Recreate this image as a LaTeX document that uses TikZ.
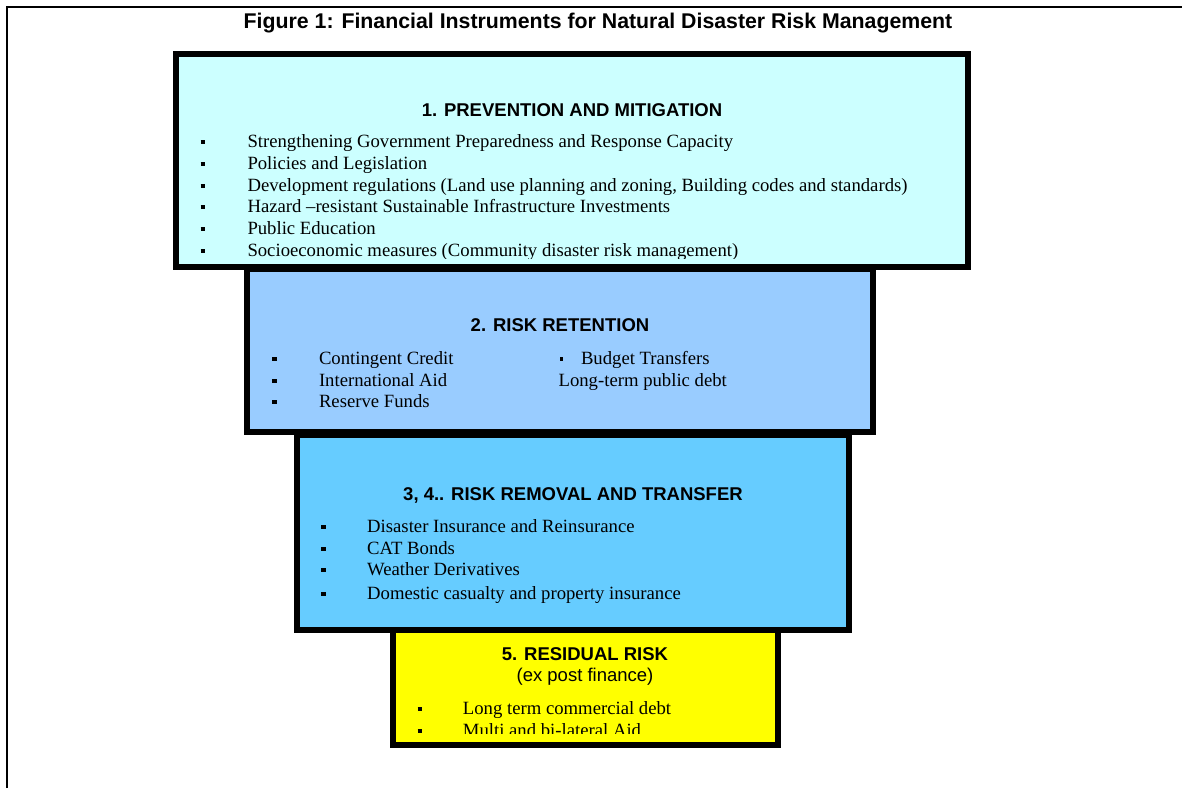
\documentclass[tikz,border=0pt]{standalone}
\usepackage{fontspec}
\setmainfont{Liberation Serif}
\setsansfont{Liberation Sans}
\definecolor{tierA}{HTML}{CCFFFF}
\definecolor{tierB}{HTML}{99CCFF}
\definecolor{tierC}{HTML}{66CCFF}
\definecolor{tierD}{HTML}{FFFF00}
% small square bullet followed by a fixed gap, then the item text
\newcommand\sqb{\rule[3.3pt]{4.5pt}{4.2pt}}
\newcommand\itm[2]{\makebox[#1][l]{\sqb}#2}
\begin{document}
\begin{tikzpicture}[x=1pt,y=-1pt,
  tier/.style={draw=black, line width=6pt, rectangle, inner sep=0pt, outer sep=0pt, anchor=north west},
  head/.style={font=\fontsize{18.5}{22}\selectfont\sffamily\bfseries, inner sep=0pt, anchor=base},
  sub/.style={font=\fontsize{18.5}{22}\selectfont\sffamily, inner sep=0pt, anchor=base},
  item/.style={font=\fontsize{18.7}{22}\selectfont, inner sep=0pt, anchor=base west},
  ]
\useasboundingbox (0,0) rectangle (1184,788);
\fill[white] (0,0) rectangle (1184,788);

% page frame (left and top edges)
\draw[line width=2pt] (7,788) -- (7,7) -- (1182,7);

% title
\node[font=\fontsize{21.3}{25}\selectfont\sffamily\bfseries, inner sep=0pt, anchor=base]
  (title) at (598,28.5) {Figure 1: Financial Instruments for Natural Disaster Risk Management};

% tier 1
\node[tier, fill=tierA, minimum width=792pt, minimum height=213pt] (prevbox) at (176,54) {};
\begin{scope}
\clip (179,57) rectangle (965,258);
\node[head] (prevhead) at (572,116) {1. PREVENTION AND MITIGATION};
\node[item] (p1) at (200.5,147.7) {\itm{46.8pt}{Strengthening Government Preparedness and Response Capacity}};
\node[item] (p2) at (200.5,169.3) {\itm{46.8pt}{Policies and Legislation}};
\node[item] (p3) at (200.5,191) {\itm{46.8pt}{Development regulations (Land use planning and zoning, Building codes and standards)}};
\node[item] (p4) at (200.5,212.6) {\itm{46.8pt}{Hazard –resistant Sustainable Infrastructure Investments}};
\node[item] (p5) at (200.5,234.3) {\itm{46.8pt}{Public Education}};
\node[item] (p6) at (200.5,256) {\itm{46.8pt}{Socioeconomic measures (Community disaster risk management)}};
\end{scope}

% tier 2
\node[tier, fill=tierB, minimum width=626pt, minimum height=163pt] (retbox) at (247,269) {};
\node[head] (rethead) at (560,331.5) {2. RISK RETENTION};
\node[item] (r1) at (272,364.5) {\itm{46.8pt}{Contingent Credit}};
\node[item] (r2) at (272,386) {\itm{46.8pt}{International Aid}};
\node[item] (r3) at (272,407.5) {\itm{46.8pt}{Reserve Funds}};
\node[item] (r4) at (560,364.5) {\makebox[20.8pt][l]{\rule[4pt]{3pt}{3.2pt}}Budget Transfers};
\node[item] (r5) at (558.4,386) {Long-term public debt};

% tier 3
\node[tier, fill=tierC, minimum width=552pt, minimum height=195pt] (trabox) at (297,435) {};
\node[head] (trahead) at (573,500) {3, 4.. RISK REMOVAL AND TRANSFER};
\node[item] (t1) at (321,532.5) {\itm{46pt}{Disaster Insurance and Reinsurance}};
\node[item] (t2) at (321,554) {\itm{46pt}{CAT Bonds}};
\node[item] (t3) at (321,575.5) {\itm{46pt}{Weather Derivatives}};
\node[item] (t4) at (321,599) {\itm{46pt}{Domestic casualty and property insurance}};

% tier 4
\node[tier, fill=tierD, minimum width=384.5pt, minimum height=115pt] (resbox) at (393,630) {};
\begin{scope}
\clip (396,633) rectangle (774.5,733.5);
\node[head] (reshead) at (585,660.7) {5. RESIDUAL RISK};
\node[sub] (ressub) at (585,681.5) {(ex post finance)};
\node[item] (d1) at (417.3,714.3) {\itm{45.4pt}{Long term commercial debt}};
\node[item] (d2) at (417.3,736) {\itm{45.4pt}{Multi and bi-lateral Aid}};
\end{scope}
\end{tikzpicture}
\end{document}
